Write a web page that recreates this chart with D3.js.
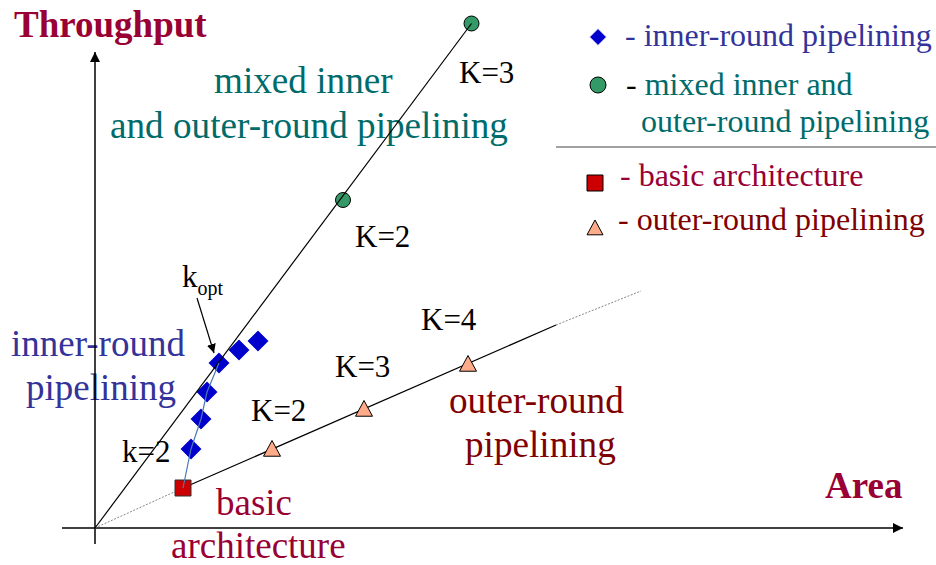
<!DOCTYPE html>
<html>
<head>
<meta charset="utf-8">
<script src="https://cdn.jsdelivr.net/npm/d3@7"></script>
<style>
html,body{margin:0;padding:0;background:#fff;}
svg{display:block;font-family:"Liberation Serif","Times New Roman",serif;}
</style>
</head>
<body>
<svg id="chart" width="936" height="565"></svg>
<script>
// ---- data (arbitrary area / throughput units) ----
const basic = [{k: 1, area: 8.8, thr: 4.0}];
const innerRound = [
  {k: 2, area: 9.6, thr: 7.9},
  {k: 3, area: 10.6, thr: 10.9},
  {k: 4, area: 11.2, thr: 13.6},
  {k: 5, area: 12.4, thr: 16.5},
  {k: 6, area: 14.4, thr: 17.8},
  {k: 7, area: 16.3, thr: 18.7}
];
const kOptIndex = 3;
const mixed = [
  {k: 2, area: 24.8, thr: 32.8, label: "K=2"},
  {k: 3, area: 37.65, thr: 50.45, label: "K=3"}
];
const outerRound = [
  {k: 2, area: 17.7, thr: 7.9, label: "K=2"},
  {k: 3, area: 26.9, thr: 11.9, label: "K=3"},
  {k: 4, area: 37.3, thr: 16.4, label: "K=4"}
];
const outerSolidEnd = {area: 46.1, thr: 20.3};
const outerDottedEnd = {area: 54.6, thr: 23.7};
const axisX = [-3.3, 80.8];
const axisY = [-1.6, 47.6];
const legendItems = [
  {sym: "diamond", lines: ["inner-round pipelining"], color: "#333399", dash: "#333399"},
  {sym: "circle", lines: ["mixed inner and", "outer-round pipelining"], color: "#006b6b", dash: "#000"},
  {sym: "square", lines: ["basic architecture"], color: "#990033", dash: "#990033"},
  {sym: "triangle", lines: ["outer-round pipelining"], color: "#800000", dash: "#800000"}
];

// ---- scales ----
const x = d3.scaleLinear().domain([0, 81]).range([95, 905]);
const y = d3.scaleLinear().domain([0, 52]).range([528, 8]);

const svg = d3.select("#chart");
const defs = svg.append("defs");
defs.append("marker").attr("id", "arr").attr("viewBox", "0 0 10 10")
  .attr("refX", 10).attr("refY", 5).attr("markerWidth", 10).attr("markerHeight", 10)
  .attr("markerUnits", "userSpaceOnUse").attr("orient", "auto")
  .append("path").attr("d", "M0,0 L10,5 L0,10 Z").attr("fill", "#000");
defs.append("marker").attr("id", "arrS").attr("viewBox", "0 0 10 10")
  .attr("refX", 10).attr("refY", 5).attr("markerWidth", 9).attr("markerHeight", 9)
  .attr("markerUnits", "userSpaceOnUse").attr("orient", "auto")
  .append("path").attr("d", "M0,0 L10,5 L0,10 Z").attr("fill", "#000");

// ---- text labels (drawn first: axes run over them) ----
function label(txt, px, py, size, color, weight) {
  svg.append("text").attr("x", px).attr("y", py).attr("font-size", size)
    .attr("fill", color).attr("font-weight", weight || "normal").text(txt);
}
label("Throughput", 14, 37, 37, "#990033", "bold");
label("Area", 825, 498, 37, "#990033", "bold");
label("mixed inner", 214, 93, 37.2, "#006b6b");
label("and outer-round pipelining", 110, 138, 37.2, "#006b6b");
label("inner-round", 11, 356, 37, "#333399");
label("pipelining", 26, 400, 37, "#333399");
label("outer-round", 449, 413, 37.2, "#800000");
label("pipelining", 465, 457, 37.2, "#800000");
label("basic", 216, 515, 37, "#990033");
label("architecture", 171, 558, 37, "#990033");

// ---- axes ----
svg.append("line").attr("x1", x(axisX[0])).attr("y1", y(0)).attr("x2", x(axisX[1])).attr("y2", y(0))
  .attr("stroke", "#000").attr("stroke-width", 1.5).attr("marker-end", "url(#arr)");
svg.append("line").attr("x1", x(0)).attr("y1", y(axisY[0])).attr("x2", x(0)).attr("y2", y(axisY[1]))
  .attr("stroke", "#000").attr("stroke-width", 1.5).attr("marker-end", "url(#arr)");

const line = d3.line().x(d => x(d.area)).y(d => y(d.thr));
const origin = {area: 0, thr: 0};

// outer-round line
svg.append("path").attr("d", line([origin, basic[0]])).attr("fill", "none")
  .attr("stroke", "#888").attr("stroke-width", 1).attr("stroke-dasharray", "2,1.5");
svg.append("path").attr("d", line([basic[0], outerSolidEnd])).attr("fill", "none")
  .attr("stroke", "#000").attr("stroke-width", 1.2);
svg.append("path").attr("d", line([outerSolidEnd, outerDottedEnd])).attr("fill", "none")
  .attr("stroke", "#888").attr("stroke-width", 1).attr("stroke-dasharray", "2,1.5");

// markers
const sym = {
  diamond: (s) => `M0,${-s}L${s},0L0,${s}L${-s},0Z`,
  square: (s) => `M${-s},${-s}H${s}V${s}H${-s}Z`,
  triangle: (s) => `M0,${-s}L${s},${s * 0.85}L${-s},${s * 0.85}Z`
};

svg.selectAll(".tri").data(outerRound).join("path").attr("class", "tri")
  .attr("transform", d => `translate(${x(d.area)},${y(d.thr)})`)
  .attr("d", sym.triangle(8.5)).attr("fill", "#ffab8a").attr("stroke", "#000").attr("stroke-width", 1);

svg.selectAll(".dia").data(innerRound).join("path").attr("class", "dia")
  .attr("transform", d => `translate(${x(d.area)},${y(d.thr)})`)
  .attr("d", sym.diamond(11.5)).attr("fill", "#0000cc").attr("stroke", "#fff").attr("stroke-width", 1.5);

svg.selectAll(".sq").data(basic).join("path").attr("class", "sq")
  .attr("transform", d => `translate(${x(d.area)},${y(d.thr)})`)
  .attr("d", sym.square(8)).attr("fill", "#cc0000").attr("stroke", "#333").attr("stroke-width", 1);

svg.selectAll(".circ").data(mixed).join("circle").attr("class", "circ")
  .attr("cx", d => x(d.area)).attr("cy", d => y(d.thr)).attr("r", 7.5)
  .attr("fill", "#339966").attr("stroke", "#000").attr("stroke-width", 1);

// mixed line (origin through K=2 to K=3)
svg.append("path").attr("d", line([origin, mixed[1]])).attr("fill", "none")
  .attr("stroke", "#000").attr("stroke-width", 1.2);

// inner-round connecting line
svg.append("path").attr("d", line([basic[0]].concat(innerRound.slice(0, kOptIndex + 1))))
  .attr("fill", "none").attr("stroke", "#4a7ab5").attr("stroke-width", 1.2);

// K labels
label("K=3", 459, 83, 31, "#000");
label("K=2", 355, 247, 31, "#000");
label("K=2", 251, 421, 31, "#000");
label("K=3", 335, 377, 31, "#000");
label("K=4", 421, 330, 31, "#000");
label("k=2", 122, 462, 31, "#000");

// k_opt
const kt = svg.append("text").attr("x", 182).attr("y", 287).attr("font-size", 31).attr("fill", "#000");
kt.append("tspan").text("k");
kt.append("tspan").attr("font-size", 20).attr("dy", 8).text("opt");
const kd = innerRound[kOptIndex];
svg.append("line").attr("x1", 197).attr("y1", 298).attr("x2", x(kd.area) - 5).attr("y2", y(kd.thr) - 10)
  .attr("stroke", "#000").attr("stroke-width", 1.2).attr("marker-end", "url(#arrS)");

// ---- legend ----
const lg = svg.append("g");
const legendPos = [
  {mx: 598, my: 37, tx: 625, ty: 46},
  {mx: 598, my: 85, tx: 626, ty: 95},
  {mx: 595, my: 183, tx: 620, ty: 186},
  {mx: 595, my: 228, tx: 618, ty: 230}
];
legendItems.forEach((it, i) => {
  const p = legendPos[i];
  if (it.sym === "circle") {
    lg.append("circle").attr("cx", p.mx).attr("cy", p.my).attr("r", 8)
      .attr("fill", "#339966").attr("stroke", "#000");
  } else if (it.sym === "diamond") {
    lg.append("path").attr("transform", `translate(${p.mx},${p.my})`).attr("d", sym.diamond(8.5))
      .attr("fill", "#0000cc").attr("stroke", "#fff");
  } else if (it.sym === "square") {
    lg.append("path").attr("transform", `translate(${p.mx},${p.my})`).attr("d", sym.square(8))
      .attr("fill", "#cc0000").attr("stroke", "#000");
  } else {
    lg.append("path").attr("transform", `translate(${p.mx},${p.my})`).attr("d", sym.triangle(8))
      .attr("fill", "#ffab8a").attr("stroke", "#000");
  }
  const t = lg.append("text").attr("x", p.tx).attr("y", p.ty).attr("font-size", 32);
  t.append("tspan").attr("fill", it.dash).text("- ");
  t.append("tspan").attr("fill", it.color).text(it.lines[0]);
  if (it.lines[1]) {
    lg.append("text").attr("x", 641).attr("y", 132).attr("font-size", 32)
      .attr("fill", it.color).text(it.lines[1]);
  }
});
lg.append("line").attr("x1", 556).attr("x2", 936).attr("y1", 147).attr("y2", 147)
  .attr("stroke", "#444").attr("stroke-width", 1.2);
</script>
</body>
</html>
